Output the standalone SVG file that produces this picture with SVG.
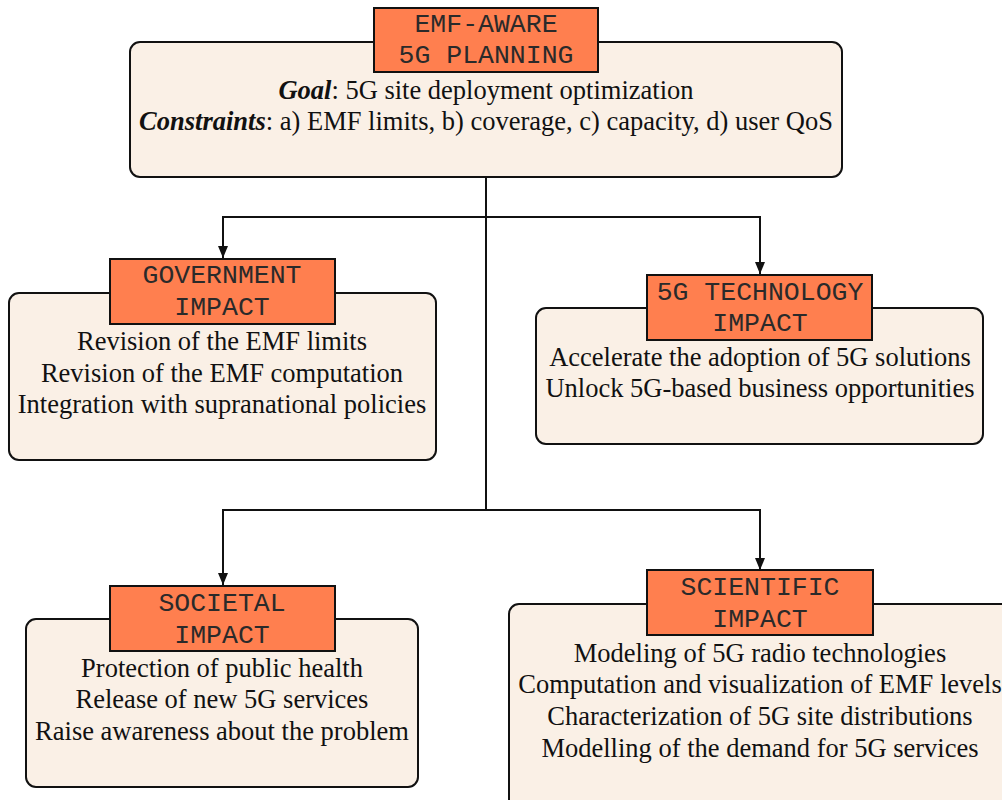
<svg xmlns="http://www.w3.org/2000/svg" width="1002" height="800" viewBox="0 0 1002 800">
<style>
.box{fill:#FAF0E6;stroke:#111;stroke-width:2}
.ttl{fill:#FF7F4F;stroke:#111;stroke-width:2}
.mono{font-family:"Liberation Mono","Courier New",monospace;font-size:26.5px;fill:#2a2a2a;text-anchor:middle}
.serif{font-family:"Liberation Serif","Times New Roman",serif;font-size:26.5px;fill:#111;text-anchor:middle}
.conn{fill:none;stroke:#111;stroke-width:2}
</style>
<defs>
<marker id="ad" markerWidth="12" markerHeight="10" refX="12" refY="5" orient="auto" markerUnits="userSpaceOnUse" viewBox="0 0 12 10">
<path d="M0,0 L12,5 L0,10 Z" fill="#111"/>
</marker>
</defs>
<g id="connectors">
<path class="conn" d="M486,177 V510"/>
<path class="conn" d="M486,217 H223 V258" marker-end="url(#ad)"/>
<path class="conn" d="M486,217 H760 V274" marker-end="url(#ad)"/>
<path class="conn" d="M486,510 H223 V585" marker-end="url(#ad)"/>
<path class="conn" d="M486,510 H760 V570" marker-end="url(#ad)"/>
</g>
<g id="main">
<rect class="box" x="130" y="42" width="712" height="135" rx="10"/>
<rect class="ttl" x="374" y="8" width="224" height="64"/>
<text class="mono" x="486" y="32">EMF-AWARE</text>
<text class="mono" x="486" y="63">5G PLANNING</text>
<text class="serif" x="486" y="99"><tspan font-weight="bold" font-style="italic">Goal</tspan>: 5G site deployment optimization</text>
<text class="serif" x="486" y="130"><tspan font-weight="bold" font-style="italic">Constraints</tspan>: a) EMF limits, b) coverage, c) capacity, d) user QoS</text>
</g>
<g id="government">
<rect class="box" x="9" y="293" width="427" height="167" rx="10"/>
<rect class="ttl" x="110" y="259" width="225" height="65"/>
<text class="mono" x="222" y="283">GOVERNMENT</text>
<text class="mono" x="222" y="315">IMPACT</text>
<text class="serif" x="222" y="350">Revision of the EMF limits</text>
<text class="serif" x="222" y="382">Revision of the EMF computation</text>
<text class="serif" x="222" y="413">Integration with supranational policies</text>
</g>
<g id="technology">
<rect class="box" x="536" y="308" width="447" height="136" rx="10"/>
<rect class="ttl" x="647" y="275" width="225" height="65"/>
<text class="mono" x="760" y="300">5G TECHNOLOGY</text>
<text class="mono" x="760" y="331">IMPACT</text>
<text class="serif" x="760" y="366">Accelerate the adoption of 5G solutions</text>
<text class="serif" x="760" y="397">Unlock 5G-based business opportunities</text>
</g>
<g id="societal">
<rect class="box" x="26" y="619" width="392" height="168" rx="10"/>
<rect class="ttl" x="110" y="586" width="225" height="65"/>
<text class="mono" x="222" y="611">SOCIETAL</text>
<text class="mono" x="222" y="643">IMPACT</text>
<text class="serif" x="222" y="677">Protection of public health</text>
<text class="serif" x="222" y="708">Release of new 5G services</text>
<text class="serif" x="222" y="740">Raise awareness about the problem</text>
</g>
<g id="scientific">
<rect class="box" x="509" y="604" width="520" height="220" rx="10"/>
<rect class="ttl" x="647" y="570" width="226" height="65"/>
<text class="mono" x="760" y="595">SCIENTIFIC</text>
<text class="mono" x="760" y="627">IMPACT</text>
<text class="serif" x="760" y="662">Modeling of 5G radio technologies</text>
<text class="serif" x="760" y="693">Computation and visualization of EMF levels</text>
<text class="serif" x="760" y="725">Characterization of 5G site distributions</text>
<text class="serif" x="760" y="757">Modelling of the demand for 5G services</text>
</g>
</svg>
